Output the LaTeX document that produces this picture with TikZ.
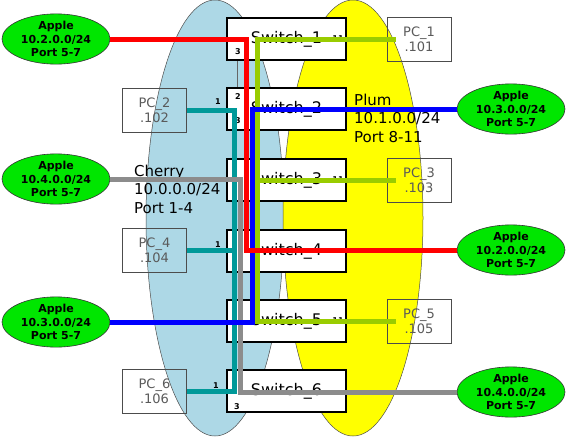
\documentclass[tikz,border=0pt]{standalone}
\usepackage{fontspec}
\setmainfont{DejaVu Sans}
\usepackage{xcolor}
\usepackage{tikz}
\usetikzlibrary{shapes.geometric, positioning}
\definecolor{cherryblue}{HTML}{ADD8E6}
\definecolor{plumyellow}{HTML}{FFFF00}
\definecolor{applegreen}{HTML}{00E600}
\definecolor{cablered}{HTML}{FF0000}
\definecolor{cableblue}{HTML}{0000FF}
\definecolor{cablegreen}{HTML}{99CC00}
\definecolor{cableteal}{HTML}{009999}
\definecolor{cablegray}{HTML}{8C8C8C}
\definecolor{pctext}{HTML}{5A5A5A}
\tikzset{
  switchbox/.style={draw=black, line width=2.4pt, fill=white, inner sep=0pt,
    minimum width=118.6pt, minimum height=41.6pt, font=\fontsize{16}{18}\selectfont},
  pcbox/.style={draw=black!70, line width=0.6pt, inner sep=0pt, align=center,
    minimum width=64pt, minimum height=44pt, text=pctext,
    font=\fontsize{13}{15}\selectfont},
  applenet/.style={ellipse, draw=black!80, line width=0.6pt, fill=applegreen,
    inner sep=0pt, minimum width=108pt, minimum height=43pt, align=center,
    font=\fontsize{11}{13.5}\selectfont\bfseries},
  areatext/.style={inner sep=0pt, align=left, font=\fontsize{15}{18.5}\selectfont},
  portno/.style={inner sep=0pt, font=\fontsize{8}{9}\selectfont\bfseries},
  cable/.style={line width=5pt}
}
\begin{document}
\begin{tikzpicture}[x=1pt, y=-1pt]
        \useasboundingbox (0,0) rectangle (567,440);
        % Cherry and Plum areas
        \draw[fill=cherryblue, draw=black!70, line width=0.5pt]
          (215,218) ellipse [x radius=69, y radius=218];
        \draw[fill=plumyellow, draw=black!70, line width=0.5pt]
          (353,218) ellipse [x radius=70, y radius=218];
        \node[areatext, anchor=west] (cherry) at (134,189) {Cherry\\10.0.0.0/24\\Port 1-4};
        \node[areatext, anchor=west] (plum) at (354,118) {Plum\\10.1.0.0/24\\Port 8-11};
        % Switch stack
        \foreach \i/\y in {1/39, 2/109, 3/180, 4/251, 5/321, 6/391}
          \node[switchbox] (sw\i) at (286.5,\y) {Switch\_\i};
        \coordinate (stackline) at (237,0);
        \draw[black!60, line width=0.5pt] (sw1.south -| stackline) -- (sw2.north -| stackline);
        % PCs
        \foreach \i/\x/\y in {1/419/39, 3/419/180, 5/419/321,
                              2/154.5/110, 4/154.5/250, 6/154.5/391.5}
          \node[pcbox] (pc\i) at (\x,\y) {PC\_\i\\.10\i};
        % Apple networks
        \foreach \n/\x/\y/\net in {l1/56/39/2, l2/56/179/4, l3/56/322/3,
                                   r1/511/109/3, r2/511/250/2, r3/511/392/4}
          \node[applenet] (ap\n) at (\x,\y) {Apple\\10.\net.0.0/24\\Port 5-7};
        % Port numbers
        \foreach \x/\y/\p [count=\k] in {238/52/3, 338/39/11, 238/97/2, 218/102/1,
            238/121/3, 338/180/11, 218/245/1, 338/321/11, 216/386/1, 237/407/3}
          \node[portno] (port\k) at (\x,\y) {\p};
        % Cables
        \coordinate (tealbus) at (234,0);
        \coordinate (graybus) at (240,0);
        \coordinate (redbus) at (246.5,0);
        \coordinate (bluebus) at (252,0);
        \coordinate (greenbus) at (257.5,0);
        \draw[cable, cableteal] (pc2.east) -- (pc2.east -| tealbus)
          -- (pc6.east -| tealbus) -- (pc6.east);
        \draw[cable, cableteal] (pc4.east) -- (pc4.east -| tealbus);
        \draw[cable, cablegreen] ([xshift=9pt]pc1.west) -- (pc1.west -| greenbus)
          -- (pc5.west -| greenbus) -- ([xshift=9pt]pc5.west);
        \draw[cable, cablegreen] ([xshift=9pt]pc3.west) -- (pc3.west -| greenbus);
        \draw[cable, cablegray] (apl2.east) -- (apl2.east -| graybus)
          -- (apr3.west -| graybus) -- (apr3.west);
        \draw[cable, cableblue] (apr1.west) -- (apr1.west -| bluebus)
          -- (apl3.east -| bluebus) -- (apl3.east);
        \draw[cable, cablered] (apl1.east) -- (apl1.east -| redbus)
          -- (apr2.west -| redbus) -- (apr2.west);
      \end{tikzpicture}
\end{document}
